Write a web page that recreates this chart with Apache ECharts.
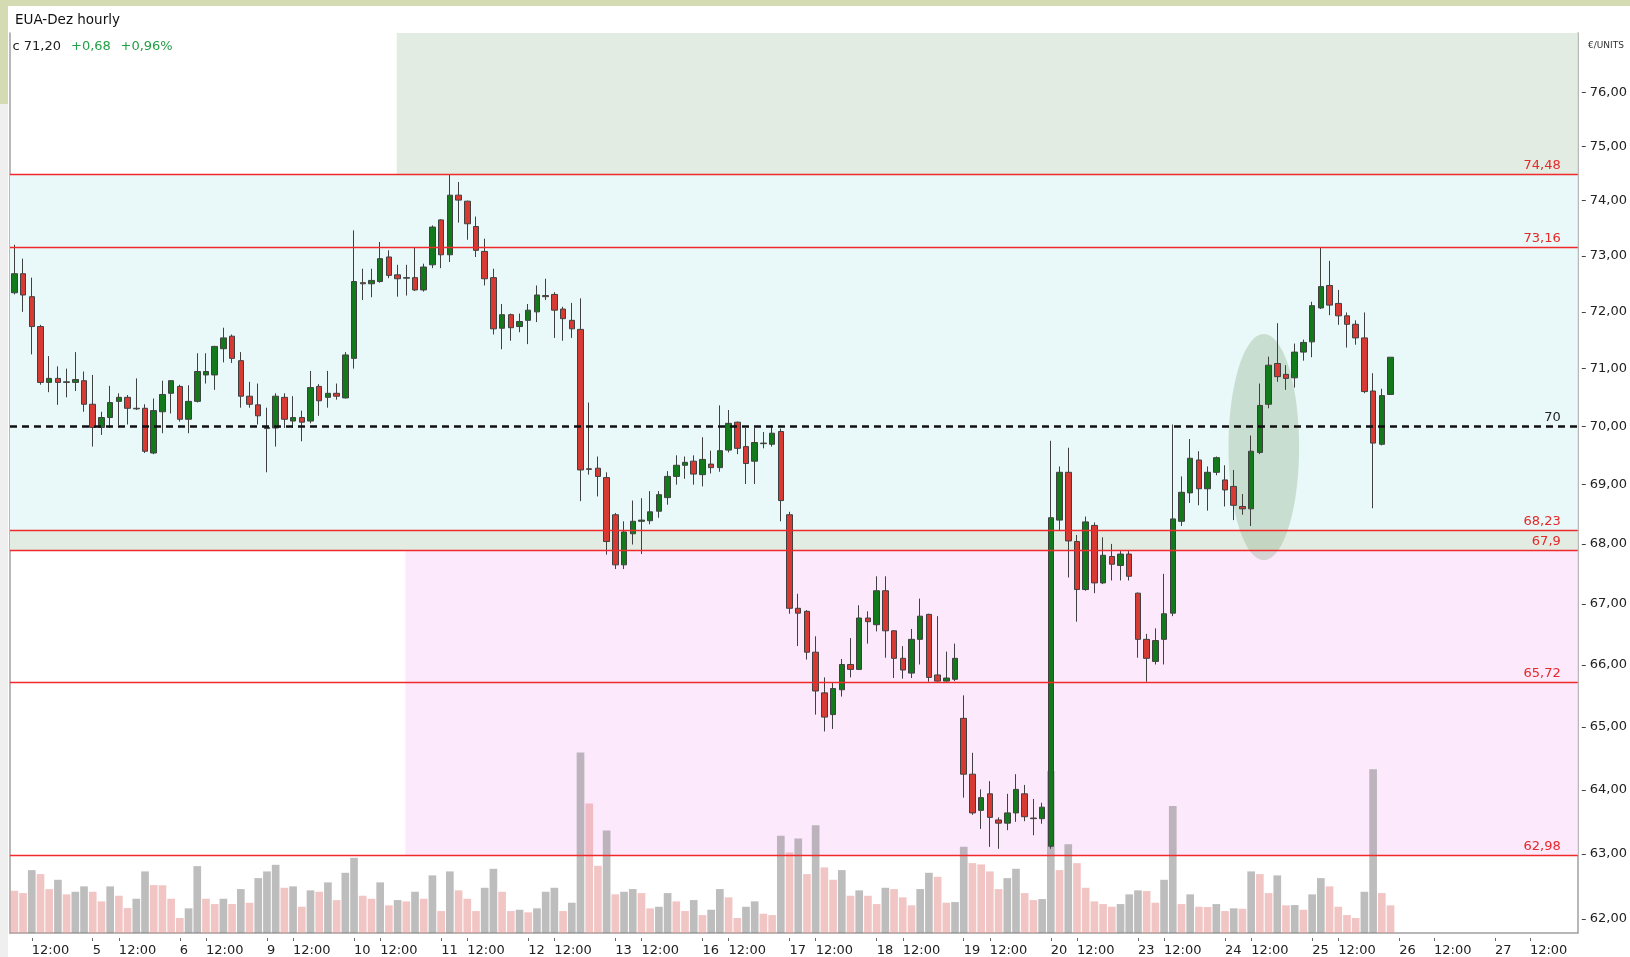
<!DOCTYPE html>
<html>
<head>
<meta charset="UTF-8">
<title>EUA-Dez hourly</title>
<script src="https://cdn.jsdelivr.net/npm/echarts@6/dist/echarts.min.js"></script>
<style>
  html, body { margin: 0; padding: 0; background: #fff; }
  #main { width: 1630px; height: 957px; }
</style>
</head>
<body>
<div id="main"></div>
<script>
// trading days shown, hourly slots 09:00-18:00; 26 and 27 are empty future days
var tradeDays = [4, 5, 6, 9, 10, 11, 12, 13, 16, 17, 18, 19, 20, 23, 24, 25];
var emptyDays = [26, 27];
var tradeHours = [9, 10, 11, 12, 13, 14, 15, 16, 17, 18];
var emptyHours = [8, 9, 10, 11, 12, 13, 14, 15, 16, 17, 18];

// hourly candles, first bar = 4th 10:00
var opens = [72.34,72.68,72.27,71.74,70.76,70.83,70.76,70.76,70.79,
  70.38,69.98,70.15,70.43,70.50,70.31,70.31,69.54,70.25,70.57,
  70.69,70.12,70.43,70.89,70.89,71.35,71.57,71.14,70.52,70.37,
  69.98,69.97,70.50,70.09,70.15,70.09,70.69,70.50,70.57,70.49,
  71.18,72.52,72.50,72.54,72.98,72.66,72.60,72.61,72.39,72.84,
  73.65,73.02,74.10,73.99,73.53,73.08,72.61,71.71,71.95,71.74,
  71.85,72.00,72.29,72.31,72.05,71.85,71.69,69.27,69.28,69.12,
  68.49,67.65,68.17,68.38,68.39,68.55,68.78,69.14,69.33,69.40,
  69.17,69.35,69.29,69.59,70.07,69.65,69.40,69.70,69.69,69.91,
  68.49,66.93,66.88,66.21,65.55,65.20,65.60,66.01,65.93,66.77,
  66.66,67.22,66.56,66.11,65.87,66.42,66.83,65.84,65.74,65.77,
  65.14,64.25,63.68,63.94,63.53,63.48,63.64,63.94,63.56,63.55,
  63.12,68.40,69.21,68.04,67.24,68.31,67.35,67.79,67.64,67.83,
  67.18,66.42,66.06,66.42,66.85,68.38,68.86,69.42,68.93,69.21,
  69.08,68.97,68.63,68.59,69.55,70.38,71.09,70.90,70.84,71.29,
  71.47,72.07,72.47,72.15,71.93,71.78,71.54,70.61,69.69,70.55];
var closes = [72.68,72.30,71.74,70.76,70.83,70.76,70.77,70.81,70.38,
  69.98,70.15,70.41,70.50,70.31,70.30,69.57,70.27,70.55,70.79,
  70.12,70.43,70.95,70.95,71.39,71.54,71.18,70.52,70.38,70.18,
  69.96,70.52,70.12,70.15,70.07,70.67,70.44,70.57,70.52,71.24,
  72.54,72.50,72.56,72.95,72.65,72.59,72.61,72.39,72.80,73.52,
  73.02,74.10,74.01,73.58,73.10,72.59,71.70,71.95,71.72,71.83,
  72.03,72.30,72.27,72.03,71.88,71.70,69.25,69.26,69.14,68.04,
  67.65,68.20,68.38,68.40,68.54,68.83,69.14,69.33,69.38,69.18,
  69.43,69.29,69.58,70.05,69.62,69.36,69.72,69.71,69.88,68.73,
  66.93,66.85,66.21,65.58,65.16,65.62,66.01,65.93,66.77,66.71,
  67.22,66.56,66.11,65.92,66.42,66.80,65.80,65.74,65.79,66.11,
  64.25,63.64,63.88,63.57,63.48,63.64,64.01,63.58,63.55,63.73,
  68.44,69.21,68.05,67.24,68.37,67.35,67.81,67.66,67.83,67.46,
  66.42,66.11,66.40,66.84,68.42,68.87,69.45,68.93,69.21,69.46,
  68.91,68.65,68.59,69.57,70.36,71.06,70.86,70.83,71.29,71.46,
  72.11,72.45,72.12,71.93,71.78,71.54,70.60,69.71,70.53,71.20];
var lows = [72.31,72.00,71.25,70.72,70.59,70.37,70.50,70.61,70.25,
  69.65,69.85,69.97,70.02,70.03,70.28,69.54,69.52,69.88,70.22,
  70.08,69.88,70.41,70.74,70.63,71.11,71.10,70.32,70.32,70.03,
  69.21,69.65,69.97,69.97,69.74,70.05,70.18,70.32,70.46,70.48,
  71.00,72.21,72.26,72.52,72.60,72.27,72.29,72.37,72.36,72.78,
  72.78,72.89,73.60,73.29,72.98,72.47,71.60,71.34,71.49,71.64,
  71.43,71.82,72.21,71.54,71.49,71.54,68.72,69.17,68.80,67.82,
  67.58,67.58,67.99,67.83,68.33,68.44,68.66,69.00,69.10,69.00,
  68.97,69.19,69.22,69.55,69.52,69.01,69.01,69.62,69.65,68.38,
  66.84,66.31,66.09,65.20,64.93,64.97,65.49,65.80,65.92,66.35,
  66.55,66.12,65.79,65.78,65.79,66.01,65.73,65.73,65.73,65.74,
  63.88,63.61,63.39,63.11,63.08,63.37,63.50,63.51,63.29,63.47,
  63.08,68.23,67.44,66.71,67.22,67.18,67.33,67.39,67.39,67.39,
  66.12,65.73,66.01,66.01,66.80,68.30,68.69,68.65,68.56,69.16,
  68.63,68.40,68.49,68.30,69.52,70.31,70.77,70.63,70.67,71.14,
  71.20,72.05,71.94,71.77,71.37,71.42,70.57,68.60,69.67,70.55];
var highs = [73.20,72.95,72.61,71.77,71.22,71.04,71.00,71.29,70.95,
  70.89,70.25,70.70,70.57,70.54,70.83,70.38,70.48,70.79,70.80,
  70.72,70.71,71.27,71.27,71.40,71.72,71.60,71.29,70.77,70.74,
  70.32,70.57,70.57,70.52,70.27,70.96,70.73,70.96,70.74,71.29,
  73.46,72.77,72.77,73.25,73.10,72.84,72.84,73.15,72.86,73.55,
  73.66,74.48,74.34,74.00,73.71,73.31,72.77,72.14,71.97,71.97,
  72.14,72.47,72.59,72.35,72.09,72.16,72.24,70.41,69.48,69.21,
  68.52,68.38,68.73,68.77,68.89,68.89,69.23,69.50,69.48,69.50,
  69.81,69.58,70.36,70.28,70.08,69.97,69.97,69.90,70.02,69.96,
  68.54,67.17,66.90,66.47,65.80,65.71,66.10,66.44,66.98,66.88,
  67.46,67.46,66.57,66.31,66.59,67.09,66.84,66.80,66.22,66.35,
  65.51,64.59,64.01,64.14,63.57,63.94,64.25,64.08,63.86,63.80,
  69.75,69.31,69.63,68.15,68.46,68.36,68.11,68.00,67.88,67.88,
  67.19,66.51,66.60,67.50,70.03,69.14,69.78,69.57,69.31,69.48,
  69.33,69.25,68.84,69.84,70.74,71.21,71.80,71.06,71.44,71.51,
  72.18,73.15,72.91,72.39,71.99,71.85,71.99,70.92,70.65,71.20];
var volumes = [423,400,630,590,440,533,387,413,467,
  413,317,467,373,250,343,617,480,478,343,
  150,247,670,343,290,343,290,440,303,550,
  617,683,453,467,263,427,413,507,330,603,
  753,373,343,507,277,330,317,413,343,577,
  220,617,427,343,220,453,643,413,220,233,
  207,247,413,453,220,303,1807,1297,673,1027,
  387,413,440,400,247,263,400,317,220,330,
  180,233,440,357,150,263,317,193,180,973,
  807,947,590,1080,657,533,630,373,427,373,
  290,453,440,357,277,440,603,563,303,310,
  863,700,687,617,440,550,643,400,330,340,
  1623,630,890,700,453,317,290,263,290,387,
  427,420,303,533,1273,290,387,263,260,290,
  220,247,243,617,590,400,577,277,280,233,
  387,550,467,263,180,150,413,1640,400,277];

// price ticks and drawn levels
var priceTicks = [62, 63, 64, 65, 66, 67, 68, 69, 70, 71, 72, 73, 74, 75, 76];
var priceMin = 61.785, priceMax = 77.12;
var levels = [74.48, 73.16, 68.23, 67.9, 65.72, 62.98];
var pivot = 70;

// shaded zones: start slot, upper and lower price
var zoneFrom = [43.9, -0.5, -0.5, 44.9];
var zoneHigh = [priceMax, 74.48, 68.23, 67.9];
var zoneLow = [74.48, 68.23, 67.9, 62.98];
var zoneFill = ['#e3ece2', '#e9f8f8', '#e3ece2', '#fce9fc'];

// hand drawn ellipse: slot range and price range
var ringSlots = [139.4, 147.5];
var ringPrices = [67.73, 71.61];

var LN = Math.log;
var FONT = 'DejaVu Sans';

var cats = [], labels = [];
tradeDays.concat(emptyDays).forEach(function (d) {
  var hrs = emptyDays.indexOf(d) >= 0 ? emptyHours : tradeHours;
  hrs.forEach(function (h, k) {
    cats.push(d + ' ' + h + ':00');
    labels.push(k === 0 ? String(d) : (h === 12 ? '12:00' : ''));
  });
});
cats = cats.slice(1, cats.length - 1);
labels = labels.slice(1, labels.length - 1);
var tickIdx = [];
labels.forEach(function (l, i) { if (l) tickIdx.push(i); });

var candles = opens.map(function (o, i) {
  return [LN(o), LN(closes[i]), LN(lows[i]), LN(highs[i])];
});
var volBars = volumes.map(function (v, i) {
  var up = i > 0 && v > volumes[i - 1];
  return { value: v, itemStyle: { color: up ? 'rgba(135,135,135,0.55)' : 'rgba(232,150,150,0.55)' } };
});

var zones = zoneFrom.map(function (x, i) {
  return [
    { xAxis: x, yAxis: LN(zoneHigh[i]), itemStyle: { color: zoneFill[i] } },
    { xAxis: cats.length - 0.5, yAxis: LN(zoneLow[i]) }
  ];
});
var lines = levels.map(function (v) {
  return {
    yAxis: LN(v),
    lineStyle: { color: '#f02a2a', width: 1.3, type: 'solid' },
    label: { formatter: String(v).replace('.', ','), color: '#e52828' }
  };
});
lines.push({
  yAxis: LN(pivot),
  lineStyle: { color: '#111', width: 2.5, type: [7, 5] },
  label: { formatter: String(pivot), color: '#222' }
});

var chart = echarts.init(document.getElementById('main'));
var gray = '#a0a0a0';

chart.setOption({
  animation: false,
  backgroundColor: '#fff',
  grid: { left: 10, right: 47.5, top: 33, bottom: 22.5 },
  xAxis: [{
    type: 'category', data: cats, boundaryGap: true,
    axisLine: { onZero: false, lineStyle: { color: gray, width: 1.5 } },
    axisTick: { show: false }, axisLabel: { show: false }, splitLine: { show: false }
  }, {
    type: 'value', position: 'bottom', offset: 5, min: -0.5, max: cats.length - 0.5,
    axisLine: { show: false, onZero: false }, splitLine: { show: false },
    axisTick: { show: true, length: 3, customValues: tickIdx, lineStyle: { color: '#666' } },
    axisLabel: {
      customValues: tickIdx, align: 'left', margin: 6,
      formatter: function (v) { return labels[Math.round(v)]; },
      color: '#222', fontFamily: FONT, fontSize: 13
    }
  }],
  yAxis: [{
    type: 'value', position: 'right', offset: 4, min: LN(priceMin), max: LN(priceMax),
    axisLine: { show: false, onZero: false }, splitLine: { show: false },
    axisTick: { show: true, length: 4, customValues: priceTicks.map(LN), lineStyle: { color: '#444' } },
    axisLabel: {
      customValues: priceTicks.map(LN), margin: 8,
      formatter: function (v) { return Math.round(Math.exp(v)) + ',00'; },
      color: '#222', fontFamily: FONT, fontSize: 13
    }
  }, {
    type: 'value', position: 'right', min: 0, max: 9015,
    axisLine: { show: true, onZero: false, lineStyle: { color: gray, width: 1.5 } },
    axisTick: { show: false }, axisLabel: { show: false }, splitLine: { show: false }
  }, {
    type: 'value', position: 'left', min: 0, max: 1,
    axisLine: { show: true, onZero: false, lineStyle: { color: gray, width: 1.5 } },
    axisTick: { show: false }, axisLabel: { show: false }, splitLine: { show: false }
  }],
  graphic: [
    { id: 'top', type: 'rect', shape: { x: 0, y: 0, width: 1630, height: 6 }, style: { fill: '#d4dab2' } },
    { id: 'side1', type: 'rect', shape: { x: 0, y: 0, width: 8, height: 104 }, style: { fill: '#d4dab2' } },
    { id: 'side2', type: 'rect', shape: { x: 0, y: 104, width: 8, height: 853 }, style: { fill: '#efefef' } },
    { id: 't1', type: 'text', x: 15, y: 20, style: { text: 'EUA-Dez hourly', fill: '#111', fontFamily: FONT, fontSize: 13.5, verticalAlign: 'middle' } },
    { id: 't2', type: 'text', x: 12.5, y: 46.5, style: { text: 'c 71,20', fill: '#222', fontFamily: FONT, fontSize: 13, verticalAlign: 'middle' } },
    { id: 't3', type: 'text', x: 71, y: 46.5, style: { text: '+0,68', fill: '#22a046', fontFamily: FONT, fontSize: 13, verticalAlign: 'middle' } },
    { id: 't4', type: 'text', x: 120.5, y: 46.5, style: { text: '+0,96%', fill: '#22a046', fontFamily: FONT, fontSize: 13, verticalAlign: 'middle' } },
    { id: 't5', type: 'text', x: 1588, y: 46, style: { text: '€/UNITS', fill: '#333', fontFamily: FONT, fontSize: 9, verticalAlign: 'middle' } }
  ],
  series: [{
    name: 'Volume', type: 'bar', xAxisIndex: 0, yAxisIndex: 1,
    barWidth: '88%', data: volBars, z: 2
  }, {
    name: 'Levels', type: 'line', xAxisIndex: 1, yAxisIndex: 0, data: [],
    markArea: { silent: true, z: 1, data: zones },
    markLine: {
      silent: true, symbol: ['none', 'none'], animation: false, precision: 10,
      label: { position: 'insideEndTop', distance: [17, 2], fontFamily: FONT, fontSize: 13 },
      data: lines
    }
  }, {
    name: 'EUA-Dez', type: 'candlestick', xAxisIndex: 0, yAxisIndex: 0, z: 3,
    barWidth: 6, data: candles,
    itemStyle: {
      color: '#137a1b', color0: '#d73a33',
      borderColor: '#404040', borderColor0: '#404040', borderColorDoji: '#404040', borderWidth: 1
    }
  }]
});

var a = chart.convertToPixel({ seriesIndex: 1 }, [ringSlots[0], LN(ringPrices[1])]);
var b = chart.convertToPixel({ seriesIndex: 1 }, [ringSlots[1], LN(ringPrices[0])]);
chart.setOption({
  graphic: [{
    id: 'ring', type: 'ellipse', z: 1.5,
    shape: { cx: (a[0] + b[0]) / 2, cy: (a[1] + b[1]) / 2, rx: Math.abs(b[0] - a[0]) / 2, ry: Math.abs(b[1] - a[1]) / 2 },
    style: { fill: 'rgba(135,170,130,0.33)' }
  }]
});
</script>
</body>
</html>
